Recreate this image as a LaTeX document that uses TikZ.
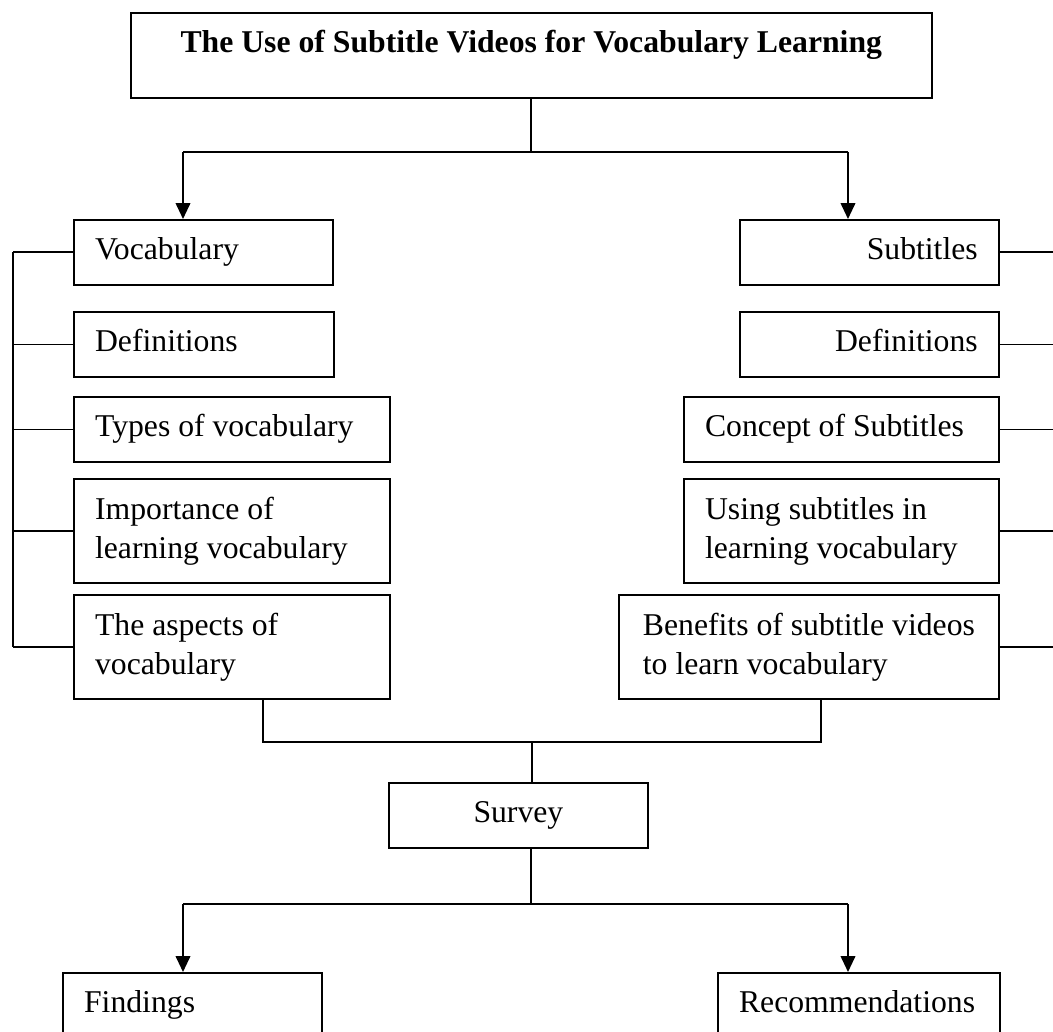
\documentclass[tikz,border=0pt]{standalone}
\usepackage{fontspec}
\setmainfont{Liberation Serif}
\usepackage{tikz}
\usetikzlibrary{positioning, arrows.meta}
\tikzset{
  box/.style={draw, line width=0.7pt, anchor=north west, inner xsep=8pt, inner ysep=0pt,
    font=\fontsize{12}{14.8}\selectfont},
  onebox/.style={box, minimum height=24.6pt, text height=8.2pt, text depth=2.6pt},
  twobox/.style={box, minimum height=39.4pt},
  topbox/.style={box, font=\fontsize{12}{14.8}\selectfont\bfseries, align=flush center,
    text height=15.1pt, text depth=17.1pt},
  link/.style={line width=0.7pt},
  arr/.style={-{Triangle[length=6pt, width=5.5pt]}, line width=0.7pt},
}

\begin{document}
\begin{tikzpicture}[x=0.3784pt, y=-0.3784pt]
  \useasboundingbox (0,0) rectangle (1053,1032);
  \clip (0,0) rectangle (1053,1032);

  \node[topbox, text width=287pt] (title) at (130,12) {The Use of Subtitle Videos for Vocabulary Learning};

  % vocabulary column
  \node[onebox, text width=82pt, align=flush left] (voc) at (73,219) {Vocabulary};
  \node[onebox, text width=82.4pt, align=flush left] (vdef) at (73,311) {Definitions};
  \node[onebox, text width=103.6pt, align=flush left] (vtype) at (73,396) {Types of vocabulary};
  \node[twobox, text width=103.6pt, align=flush left] (vimp) at (73,478) {Importance of\\learning vocabulary};
  \node[twobox, text width=103.6pt, align=flush left] (vasp) at (73,594) {The aspects of\\vocabulary};

  % subtitles column
  \node[onebox, text width=82pt, align=flush right] (sub) at (739,219) {Subtitles};
  \node[onebox, text width=82pt, align=flush right] (sdef) at (739,311) {Definitions};
  \node[onebox, text width=103.2pt, align=flush left] (scon) at (683,396) {Concept of Subtitles};
  \node[twobox, text width=103.2pt, align=flush left] (suse) at (683,478) {Using subtitles in\\learning vocabulary};
  \node[twobox, minimum width=143.8pt, align=left] (sben) at (618,594) {Benefits of subtitle videos\\to learn vocabulary};

  \node[onebox, text width=82pt, align=flush center] (survey) at (388,782) {Survey};
  \node[onebox, text width=82pt, align=flush left] (find) at (62,972) {Findings};
  \node[onebox, text width=90.7pt, align=flush left] (rec) at (717,972) {Recommendations};

  \coordinate (topL) at (183,152);
  \coordinate (topR) at (848,152);
  \coordinate (spL) at (13,0);
  \coordinate (edgeR) at (1060,0);
  \coordinate (botL) at (263,742);
  \coordinate (botM) at (532,742);
  \coordinate (botR) at (821,742);
  \coordinate (sv) at (531,904);
  \coordinate (svL) at (183,904);
  \coordinate (svR) at (848,904);

  \draw[link] (title.south) -- (title.south |- topL);
  \draw[link] (topL) -- (topR);
  \draw[arr] (topL) -- (topL |- voc.north);
  \draw[arr] (topR) -- (topR |- sub.north);

  \draw[link] (voc.west -| spL) -- (vasp.west -| spL);
  \foreach \n in {voc,vdef,vtype,vimp,vasp}
    \draw[link] (\n.west) -- (\n.west -| spL);
  \foreach \n in {sub,sdef,scon,suse,sben}
    \draw[link] (\n.east) -- (\n.east -| edgeR);

  \draw[link] (vasp.south -| botL) -- (botL) -- (botR) -- (botR |- sben.south);
  \draw[link] (botM) -- (botM |- survey.north);
  \draw[link] (survey.south -| sv) -- (sv);
  \draw[link] (svL) -- (svR);
  \draw[arr] (svL) -- (svL |- find.north);
  \draw[arr] (svR) -- (svR |- rec.north);
\end{tikzpicture}
\end{document}
